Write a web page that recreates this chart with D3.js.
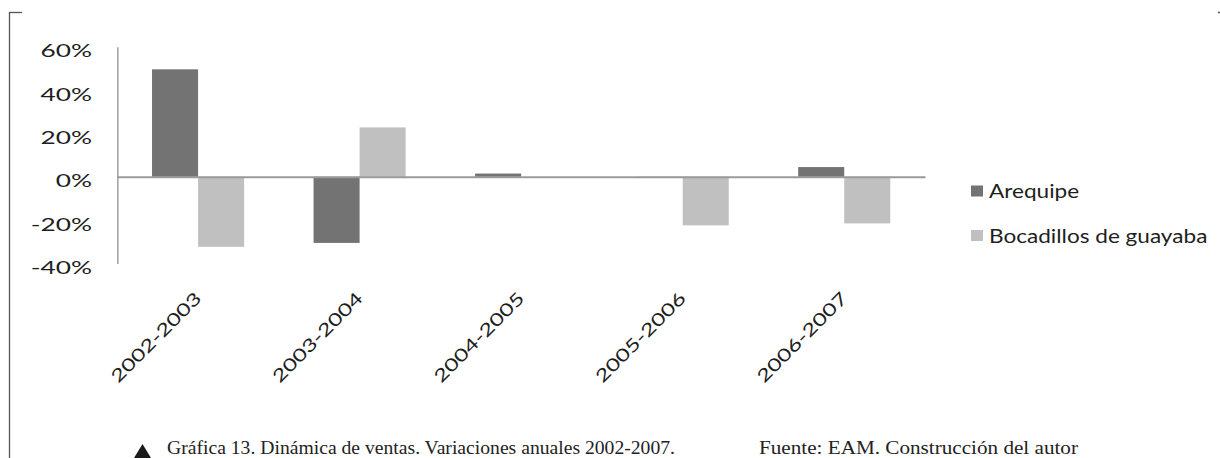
<!DOCTYPE html>
<html>
<head>
<meta charset="utf-8">
<script src="https://cdn.jsdelivr.net/npm/d3@7"></script>
<style>
  html, body { margin: 0; padding: 0; background: #fff; }
  svg { display: block; }
</style>
</head>
<body>
<svg id="chart" width="1220" height="458"></svg>
<script>
const categories = ["2002-2003", "2003-2004", "2004-2005", "2005-2006", "2006-2007"];
const seriesNames = ["Arequipe", "Bocadillos de guayaba"];
const arequipe = [49.6, -30.5, 1.5, -0.5, 4.5];
const bocadillos = [-32.3, 22.8, 0, -22.4, -21.5];
const yTicks = [-40, -20, 0, 20, 40, 60];
const captionText = "Gráfica 13. Dinámica de ventas. Variaciones anuales 2002-2007.";
const sourceText = "Fuente: EAM. Construcción del autor";

const seriesValues = [arequipe, bocadillos];
const colors = ["#737373", "#c0c0c0"];
const rows = categories.map((c, i) => ({ cat: c, vals: seriesValues.map((s, k) => ({ key: seriesNames[k], v: s[i], k })) }));

const svg = d3.select("#chart");
const sansFont = "Lato, 'Open Sans', sans-serif";
const serifFont = "'Liberation Serif', 'DejaVu Serif', serif";

// stretch helper: widen text horizontally keeping it real text
function stretch(node, factor) {
  const w = node.getComputedTextLength();
  const t = w * factor;
  node.setAttribute("textLength", t);
  node.setAttribute("lengthAdjust", "spacingAndGlyphs");
  return t;
}

const x = d3.scaleBand().domain(categories).range([117.3, 925]).paddingInner(0.43).paddingOuter(0.215);
const xs = d3.scaleBand().domain(seriesNames).range([0, x.bandwidth()]);
const y = d3.scaleLinear().domain([-40, 60]).range([263.5, 46.8]);

// frame marks
svg.append("line").attr("x1", 9.5).attr("x2", 9.5).attr("y1", 12).attr("y2", 470)
  .attr("stroke", "#555").attr("stroke-width", 1.3);
svg.append("line").attr("x1", 9).attr("x2", 22).attr("y1", 12.5).attr("y2", 12.5)
  .attr("stroke", "#555").attr("stroke-width", 1.3);
svg.append("line").attr("x1", 1218).attr("x2", 1220).attr("y1", 12.5).attr("y2", 12.5)
  .attr("stroke", "#555").attr("stroke-width", 1.3);

// bars
const groups = svg.append("g").selectAll("g").data(rows).join("g")
  .attr("transform", d => `translate(${x(d.cat)},0)`);
groups.selectAll("rect").data(d => d.vals).join("rect")
  .attr("x", d => xs(d.key))
  .attr("width", xs.bandwidth())
  .attr("y", d => y(Math.max(0, d.v)))
  .attr("height", d => Math.abs(y(d.v) - y(0)))
  .attr("fill", d => colors[d.k]);

// y axis
const yAxis = svg.append("g").attr("transform", "translate(117.3,0)")
  .call(d3.axisLeft(y).tickValues(yTicks).tickSize(0).tickSizeOuter(0).tickFormat(d => d + "%"));
yAxis.select(".domain").attr("stroke", "#a6a6a6").attr("stroke-width", 1.6);
yAxis.selectAll(".tick text")
  .attr("font-family", sansFont).attr("font-size", 17.5).attr("fill", "#1e1e1e")
  .attr("text-anchor", "start").attr("dy", 0).attr("y", 10)
  .each(function () {
    const t = stretch(this, 1.5);
    this.setAttribute("x", -25.3 - t);
  });

// zero line (x axis)
const xAxis = svg.append("g").attr("transform", `translate(0,${y(0)})`)
  .call(d3.axisBottom(x).tickSize(0).tickSizeOuter(0).tickFormat(""));
xAxis.select(".domain").attr("stroke", "#9a9a9a").attr("stroke-width", 2);

// rotated category labels
svg.append("g").selectAll("g").data(categories).join("g")
  .attr("transform", d => `translate(${x(d) + x.bandwidth() / 2 + 4.4},299.5) rotate(-45)`)
  .append("text")
  .attr("font-family", sansFont).attr("font-size", 17.5).attr("fill", "#1e1e1e")
  .text(d => d)
  .each(function () {
    const t = stretch(this, 1.36);
    this.setAttribute("x", -t);
  });

// legend
const legendRows = [{ name: seriesNames[0], c: colors[0], sy: 185.5, ty: 198 },
                    { name: seriesNames[1], c: colors[1], sy: 230, ty: 242.5 }];
const lg = svg.append("g");
lg.selectAll("rect").data(legendRows).join("rect")
  .attr("x", 971).attr("y", d => d.sy).attr("width", 12).attr("height", 11).attr("fill", d => d.c);
lg.selectAll("text").data(legendRows).join("text")
  .attr("x", 989).attr("y", d => d.ty)
  .attr("font-family", sansFont).attr("font-size", 18.5).attr("fill", "#1e1e1e")
  .text(d => d.name)
  .each(function () { stretch(this, 1.22); });

// caption
svg.append("path").attr("d", "M142.5,444 L151,458 L134,458 Z").attr("fill", "#1a1a1a");
svg.append("text").attr("x", 167).attr("y", 454)
  .attr("font-family", serifFont).attr("font-size", 18.5).attr("fill", "#222")
  .attr("textLength", 508).attr("lengthAdjust", "spacingAndGlyphs")
  .text(captionText);
svg.append("text").attr("x", 759).attr("y", 454)
  .attr("font-family", serifFont).attr("font-size", 18.5).attr("fill", "#222")
  .attr("textLength", 319).attr("lengthAdjust", "spacingAndGlyphs")
  .text(sourceText);
</script>
</body>
</html>
